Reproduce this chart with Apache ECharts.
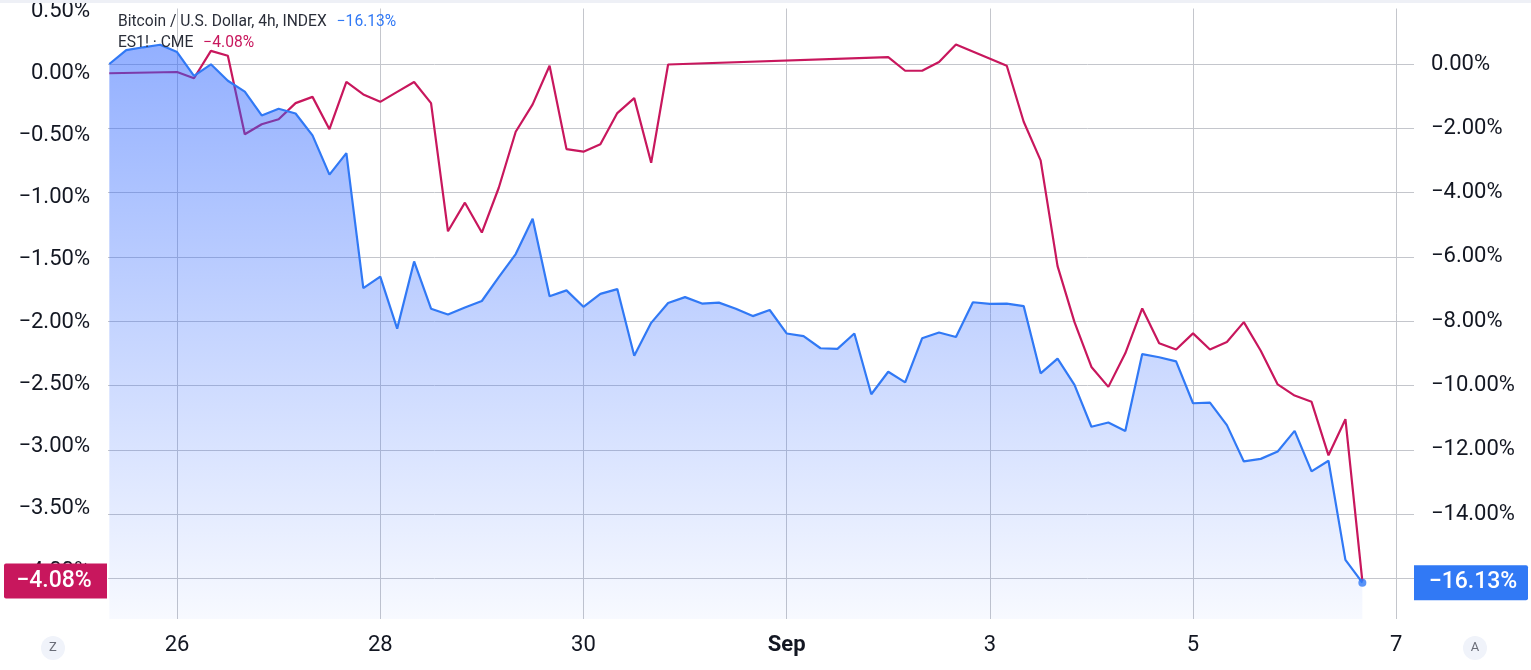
<!DOCTYPE html>
<html><head><meta charset="utf-8">
<style>html,body{margin:0;padding:0;background:#fff;overflow:hidden}#c{width:1531px;height:670px}</style>
<script src="https://cdn.jsdelivr.net/npm/echarts@6/dist/echarts.min.js"></script>
</head><body><div id="c"></div>
<script>
// ---- data ----
const barStartUTC = '2024-08-25T08:00:00Z';   // first 4h bar
const barHours = 4;
const btcName = 'Bitcoin / U.S. Dollar, 4h, INDEX';
const esName = 'ES1! \u00b7 CME';
// Bitcoin % change (right axis), one value per 4h bar
const btcPct = [0.00, 0.43, 0.52, 0.60, 0.37, -0.37, -0.01, -0.52, -0.86, -1.60,
  -1.39, -1.54, -2.22, -3.44, -2.77, -6.97, -6.61, -8.23, -6.14, -7.61,
  -7.79, -7.57, -7.37, -6.63, -5.91, -4.81, -7.22, -7.04, -7.55, -7.15,
  -7.00, -9.07, -8.05, -7.43, -7.25, -7.45, -7.42, -7.61, -7.84, -7.65,
  -8.38, -8.46, -8.84, -8.86, -8.38, -10.27, -9.57, -9.90, -8.53, -8.35,
  -8.49, -7.41, -7.46, -7.45, -7.53, -9.62, -9.16, -9.98, -11.28, -11.15,
  -11.41, -9.02, -9.12, -9.25, -10.55, -10.53, -11.23, -12.36, -12.28, -12.05,
  -11.41, -12.67, -12.34, -15.42, -16.13];
// ES1! % change (left axis), aligned to the same bars, null = no bar (market closed)
const esPct = [0.00, null, null, null, 0.01, -0.04, 0.18, 0.14, -0.49, -0.41,
  -0.37, -0.24, -0.19, -0.45, -0.07, -0.17, -0.23, -0.15, -0.07, -0.24,
  -1.27, -1.04, -1.28, -0.92, -0.47, -0.25, 0.06, -0.61, -0.63, -0.57,
  -0.32, -0.20, -0.72, 0.07, null, null, null, null, null, null,
  null, null, null, null, null, null, 0.13, 0.02, 0.02, 0.09,
  0.23, null, null, 0.06, -0.39, -0.70, -1.55, -2.00, -2.36, -2.52,
  -2.25, -1.89, -2.17, -2.22, -2.09, -2.22, -2.16, -2.00, -2.23, -2.50,
  -2.59, -2.64, -3.07, -2.78, -4.08];
const xTickDates = ['2024-08-26', '2024-08-28', '2024-08-30', '2024-09-01', '2024-09-03', '2024-09-05', '2024-09-07'];
const xTickLabels = ['26', '28', '30', 'Sep', '3', '5', '7'];
const btcTicks = [0, -2, -4, -6, -8, -10, -12, -14, -16];
const esTicks = [0.5, 0, -0.5, -1, -1.5, -2, -2.5, -3, -3.5, -4];

// ---- build ----
const BLUE = '#3179f5', RED = '#c8175d', TXT = '#131722', GRID = '#c4c6cc';
const FONT = 'Roboto';
const H = 3600000;
const t0 = Date.parse(barStartUTC);
const times = btcPct.map((_, i) => t0 + i * barHours * H);
const btcData = btcPct.map((v, i) => [times[i], v]);
const esData = esPct.map((v, i) => v == null ? null : [times[i], v]).filter(Boolean);
const xTicks = xTickDates.map(d => Date.parse(d + 'T00:00:00Z'));
const labelFor = {};
xTicks.forEach((t, i) => labelFor[t] = xTickLabels[i]);
const day0 = xTicks[0];
const fmtPct = v => (v < 0 ? '\u2212' : '') + Math.abs(v).toFixed(2) + '%';
const btcLast = btcPct[btcPct.length - 1];
const esLast = esData[esData.length - 1][1];

const chart = echarts.init(document.getElementById('c'), null, {renderer: 'canvas'});
chart.setOption({
  animation: false,
  backgroundColor: '#fff',
  grid: {left: 108, right: 117, top: 3, bottom: 51, containLabel: false},
  xAxis: {
    type: 'value',
    min: day0 - 4.078 * barHours * H,
    max: day0 + 73.05 * barHours * H,
    axisLine: {show: false},
    axisTick: {show: false, customValues: xTicks},
    splitLine: {show: true, lineStyle: {color: GRID, width: 1}},
    axisLabel: {
      customValues: xTicks, margin: 15, fontFamily: FONT, fontSize: 22, color: TXT, lineHeight: 22,
      formatter: v => { const s = labelFor[v] || ''; return s === 'Sep' ? '{b|Sep}' : s; },
      rich: {b: {fontFamily: FONT, fontSize: 22, fontWeight: 'bold', color: TXT, lineHeight: 22}}
    }
  },
  yAxis: [
    { type: 'value', position: 'right', min: -17.26, max: 1.726,
      axisLine: {show: false}, axisTick: {show: false, customValues: btcTicks},
      splitLine: {show: true, lineStyle: {color: GRID, width: 1}},
      axisLabel: {customValues: btcTicks, margin: 17, fontFamily: FONT, fontSize: 22, color: TXT, formatter: fmtPct}
    },
    { type: 'value', position: 'left', min: -4.385, max: 0.52,
      axisLine: {show: false}, axisTick: {show: false, customValues: esTicks},
      splitLine: {show: false},
      axisLabel: {customValues: esTicks, margin: 18, fontFamily: FONT, fontSize: 22, color: TXT, formatter: fmtPct}
    }
  ],
  series: [
    { name: esName, type: 'line', yAxisIndex: 1, data: esData, showSymbol: false, symbol: 'none',
      lineStyle: {color: RED, width: 2.2}, itemStyle: {color: RED}, z: 2 },
    { name: btcName, type: 'line', yAxisIndex: 0, data: btcData, showSymbol: false, symbol: 'none',
      lineStyle: {color: BLUE, width: 2.2}, itemStyle: {color: BLUE},
      areaStyle: {origin: 'start', color: new echarts.graphic.LinearGradient(0, 0, 0, 1, [
        {offset: 0, color: 'rgba(41,98,255,0.72)'},
        {offset: 0.45, color: 'rgba(41,98,255,0.42)'},
        {offset: 1, color: 'rgba(41,98,255,0.05)'}
      ])}, z: 3 },
    { type: 'scatter', yAxisIndex: 0, data: [btcData[btcData.length - 1]], symbolSize: 8,
      itemStyle: {color: BLUE}, z: 5 }
  ]
});

const yB = chart.convertToPixel({yAxisIndex: 0}, btcLast);
const yE = chart.convertToPixel({yAxisIndex: 1}, esLast);
const tagText = {fill: '#fff', fontFamily: FONT, fontSize: 23, fontWeight: 500, align: 'center', verticalAlign: 'middle'};
chart.setOption({
  graphic: [
    {type: 'rect', left: 0, top: 0, shape: {width: 1531, height: 3}, style: {fill: '#eef0f6'}, z: 50},
    {type: 'text', left: 118, top: 14, z: 60, style: {
      text: '{a|' + btcName + '}{b|' + fmtPct(btcLast) + '}',
      rich: {a: {fontFamily: FONT, fontSize: 15.6, fill: '#2a2e39'}, b: {fontFamily: FONT, fontSize: 15.6, fill: BLUE, padding: [0, 0, 0, 10]}}
    }},
    {type: 'text', left: 118, top: 35, z: 60, style: {
      text: '{a|' + esName + '}{b|' + fmtPct(esLast) + '}',
      rich: {a: {fontFamily: FONT, fontSize: 15.6, fill: '#2a2e39'}, b: {fontFamily: FONT, fontSize: 15.6, fill: RED, padding: [0, 0, 0, 10]}}
    }},
    {type: 'rect', zlevel: 1, z: 100, shape: {x: 1414, y: yB - 17.5, width: 114, height: 35, r: [0, 2, 2, 0]}, style: {fill: BLUE}},
    {type: 'text', zlevel: 1, z: 101, x: 1473, y: yB, style: Object.assign({text: fmtPct(btcLast)}, tagText)},
    {type: 'rect', zlevel: 1, z: 100, shape: {x: 4, y: yE - 17.5, width: 103, height: 35, r: [2, 0, 0, 2]}, style: {fill: RED}},
    {type: 'text', zlevel: 1, z: 101, x: 54, y: yE, style: Object.assign({text: fmtPct(esLast)}, tagText)},
    {type: 'circle', shape: {cx: 53, cy: 648, r: 12}, style: {fill: '#f0f3fa'}, z: 60},
    {type: 'text', x: 53, y: 648, z: 61, style: {text: 'Z', fill: '#6a6d78', fontFamily: FONT, fontSize: 13, align: 'center', verticalAlign: 'middle'}},
    {type: 'circle', shape: {cx: 1475, cy: 648, r: 12}, style: {fill: '#f0f3fa'}, z: 60},
    {type: 'text', x: 1475, y: 648, z: 61, style: {text: 'A', fill: '#6a6d78', fontFamily: FONT, fontSize: 13, align: 'center', verticalAlign: 'middle'}}
  ]
});
</script></body></html>
